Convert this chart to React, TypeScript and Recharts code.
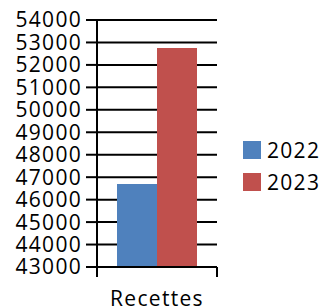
import { Bar, BarChart, CartesianGrid, Legend, XAxis, YAxis } from 'recharts'

const categories = ['Recettes']
const values2022 = [46700]
const values2023 = [52750]
const seriesNames = ['2022', '2023']
const yTicks = [43000, 44000, 45000, 46000, 47000, 48000, 49000, 50000, 51000, 52000, 53000, 54000]

const data = categories.map((name, i) => ({
  name,
  [seriesNames[0]]: values2022[i],
  [seriesNames[1]]: values2023[i],
}))

const font = '"Open Sans", sans-serif'
const textStyle = { fontFamily: font, fontSize: 21, letterSpacing: 1.3, fill: '#000' }

function CategoryTick(props: any) {
  const { x, y, payload } = props
  const half = payload && payload.offset ? payload.offset : 60
  return (
    <g>
      <line x1={x - half} y1={y} x2={x - half} y2={y + 10} stroke="#000" strokeWidth={2} />
      <line x1={x + half} y1={y} x2={x + half} y2={y + 10} stroke="#000" strokeWidth={2} />
      <text x={x} y={y + 39} textAnchor="middle" style={textStyle}>
        {payload.value}
      </text>
    </g>
  )
}

function LegendBox(props: any) {
  const items = props.payload || []
  return (
    <div>
      {items.map((it: any) => (
        <div key={it.value} style={{ display: 'flex', alignItems: 'center', height: 32 }}>
          <span style={{ width: 18, height: 18, background: it.color, display: 'inline-block', marginRight: 6 }} />
          <span style={{ fontFamily: font, fontSize: 21, letterSpacing: 1.3, color: '#000', lineHeight: '20px' }}>
            {it.value}
          </span>
        </div>
      ))}
    </div>
  )
}

export default function App() {
  return (
    <div style={{ position: 'absolute', left: 0, top: 0 }}>
      <BarChart
        width={321}
        height={306}
        data={data}
        margin={{ top: 20, right: 104, left: 0, bottom: 0 }}
        barCategoryGap={20}
        barGap={0}
        style={{ fontFamily: font }}
      >
        <CartesianGrid vertical={false} stroke="#000" strokeWidth={2} />
        <XAxis
          dataKey="name"
          height={39}
          tickSize={0}
          tickMargin={0}
          tickLine={false}
          axisLine={{ stroke: '#000', strokeWidth: 2 }}
          tick={<CategoryTick />}
        />
        <YAxis
          width={97}
          domain={[43000, 54000]}
          ticks={yTicks}
          interval={0}
          tickSize={11}
          tickMargin={4}
          axisLine={{ stroke: '#000', strokeWidth: 2 }}
          tickLine={{ stroke: '#000', strokeWidth: 2 }}
          tick={textStyle}
        />
        <Legend
          layout="horizontal"
          align="center"
          verticalAlign="middle"
          content={<LegendBox />}
          wrapperStyle={{ left: 243, top: 134, width: 78 }}
        />
        <Bar dataKey={seriesNames[0]} fill="#4F81BD" isAnimationActive={false} />
        <Bar dataKey={seriesNames[1]} fill="#C0504D" isAnimationActive={false} />
      </BarChart>
    </div>
  )
}
